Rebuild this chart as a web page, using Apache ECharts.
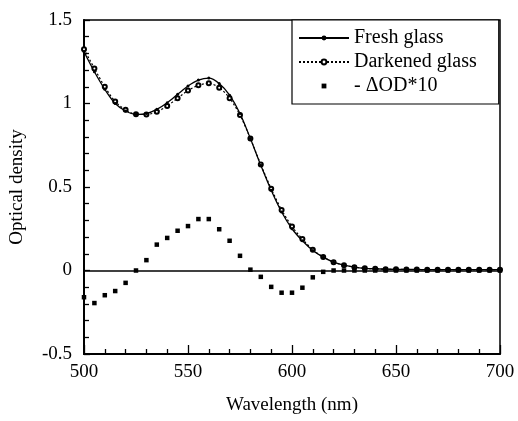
<!DOCTYPE html>
<html>
<head>
<meta charset="utf-8">
<script src="https://cdn.jsdelivr.net/npm/echarts@6/dist/echarts.min.js"></script>
<style>
  html, body { margin: 0; padding: 0; background: #fff; }
  #chart { width: 518px; height: 421px; }
</style>
</head>
<body>
<div id="chart"></div>
<script>
// wavelengths (nm), 5 nm steps
const wavelengths = [
  500, 505, 510, 515, 520, 525, 530, 535, 540, 545,
  550, 555, 560, 565, 570, 575, 580, 585, 590, 595,
  600, 605, 610, 615, 620, 625, 630, 635, 640, 645,
  650, 655, 660, 665, 670, 675, 680, 685, 690, 695, 700
];
const freshGlass = [
  1.31, 1.19, 1.085, 1.0, 0.955, 0.935, 0.94, 0.965, 1.005, 1.055,
  1.105, 1.14, 1.152, 1.12, 1.05, 0.94, 0.79, 0.63, 0.48, 0.35,
  0.25, 0.178, 0.12, 0.08, 0.05, 0.032, 0.02, 0.013, 0.01, 0.008,
  0.007, 0.006, 0.006, 0.005, 0.005, 0.005, 0.005, 0.005, 0.005, 0.005, 0.005
];
const darkenedGlass = [
  1.325, 1.21, 1.1, 1.012, 0.962, 0.935, 0.934, 0.95, 0.985, 1.032,
  1.078, 1.109, 1.121, 1.095, 1.032, 0.931, 0.79, 0.634, 0.49, 0.363,
  0.263, 0.188, 0.124, 0.081, 0.05, 0.032, 0.02, 0.013, 0.01, 0.008,
  0.007, 0.006, 0.006, 0.005, 0.005, 0.005, 0.005, 0.005, 0.005, 0.005, 0.005
];
const deltaOD10 = [
  -0.16, -0.195, -0.148, -0.123, -0.074, 0.0, 0.062, 0.155, 0.195, 0.238,
  0.266, 0.308, 0.308, 0.247, 0.178, 0.088, 0.005, -0.038, -0.098, -0.133,
  -0.133, -0.103, -0.041, -0.008, 0, 0, 0, 0, 0, 0,
  0, 0, 0, 0, 0, 0, 0, 0, 0, 0, 0
];

const font = 'Liberation Serif';
const pairs = (vals) => wavelengths.map((w, i) => [w, vals[i]]);

const chart = echarts.init(document.getElementById('chart'));

const option = {
  animation: false,
  backgroundColor: '#fff',
  textStyle: { fontFamily: font, color: '#000' },
  grid: {
    left: 83, right: 18, top: 20, bottom: 67,
    show: true, borderColor: '#000', borderWidth: 1.5, backgroundColor: 'transparent'
  },
  legend: {
    orient: 'vertical',
    left: 292, top: 20,
    padding: [8, 22, 8, 6],
    itemGap: 4,
    itemWidth: 50,
    itemHeight: 6,
    borderColor: '#000',
    borderWidth: 1.2,
    backgroundColor: '#fff',
    textStyle: { fontFamily: font, fontSize: 20, color: '#000' },
    data: ['Fresh glass', 'Darkened glass', '- \u0394OD*10']
  },
  xAxis: {
    type: 'value',
    min: 500, max: 700, interval: 50,
    name: 'Wavelength (nm)',
    nameLocation: 'middle',
    nameGap: 42,
    nameTextStyle: { fontFamily: font, fontSize: 19, color: '#000' },
    axisLine: { show: true, onZero: false, lineStyle: { color: '#000', width: 2 } },
    axisTick: { show: true, inside: true, length: 9, lineStyle: { color: '#000', width: 1.3 } },
    minorTick: { show: true, splitNumber: 5, length: 5, lineStyle: { color: '#000', width: 1.3 } },
    axisLabel: { fontFamily: font, fontSize: 19, color: '#000', margin: 9 },
    splitLine: { show: false }
  },
  yAxis: {
    type: 'value',
    min: -0.5, max: 1.5, interval: 0.5,
    name: 'Optical density',
    nameLocation: 'middle',
    nameGap: 57,
    nameTextStyle: { fontFamily: font, fontSize: 19, color: '#000' },
    axisLine: { show: true, onZero: false, lineStyle: { color: '#000', width: 2 } },
    axisTick: { show: true, inside: true, length: 6, lineStyle: { color: '#000', width: 1.3 } },
    minorTick: { show: true, splitNumber: 5, length: 5, lineStyle: { color: '#000', width: 1.3 } },
    axisLabel: { fontFamily: font, fontSize: 19, color: '#000', margin: 12 },
    splitLine: { show: false }
  },
  series: [
    {
      name: 'Darkened glass',
      type: 'line',
      data: pairs(darkenedGlass),
      smooth: 0.3,
      symbol: 'emptyCircle',
      symbolSize: 4,
      itemStyle: { color: '#000', borderWidth: 1 },
      lineStyle: { color: '#000', width: 1.2, type: [2, 2] }
    },
    {
      name: 'Fresh glass',
      type: 'line',
      data: pairs(freshGlass),
      smooth: 0.3,
      symbol: 'circle',
      symbolSize: 3,
      itemStyle: { color: '#000' },
      lineStyle: { color: '#000', width: 1.3 }
    },
    {
      name: '- \u0394OD*10',
      type: 'line',
      data: pairs(deltaOD10),
      symbol: 'rect',
      symbolSize: 4.5,
      itemStyle: { color: '#000' },
      lineStyle: { opacity: 0, width: 0 },
      markLine: {
        silent: true,
        symbol: ['none', 'none'],
        label: { show: false },
        lineStyle: { color: '#000', type: 'solid', width: 1.5 },
        data: [{ yAxis: 0 }]
      }
    }
  ]
};

chart.setOption(option);
</script>
</body>
</html>
